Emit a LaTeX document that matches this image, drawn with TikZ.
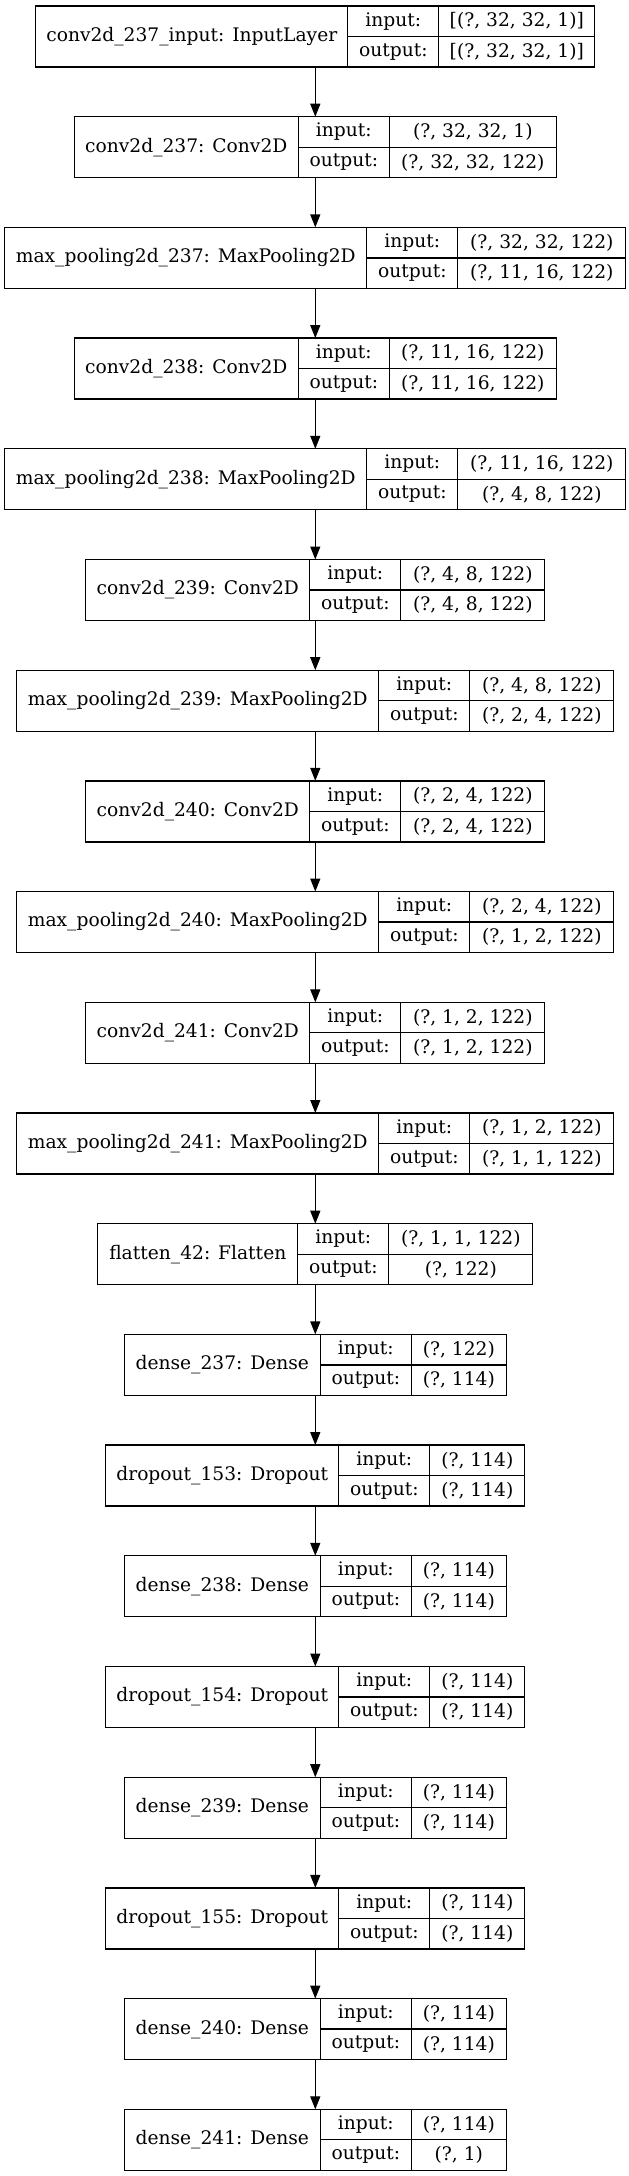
\documentclass[tikz,border=0pt]{standalone}
\usepackage{fontspec}
\setmainfont{DejaVu Serif}
\usetikzlibrary{arrows.meta}
\usetikzlibrary{positioning}

% one layer: id, row, name width, value width, title, input, output (widths in px)
\newcommand{\layer}[7]{%
  \node[layerbox, minimum width={(#3+91+#4)*0.75pt}] (#1) at (315.3,{36.5+#2*110.7}) {};
  \node[cell, minimum width={#3*0.75pt}, minimum height=45.75pt, anchor=west] (#1name) at (#1.west) {#5};
  \node[cell, minimum width=68.25pt, anchor=north west] (#1inl) at (#1name.north east) {input:};
  \node[cell, minimum width=68.25pt, anchor=north west] (#1outl) at (#1inl.south west) {output:};
  \node[cell, minimum width={#4*0.75pt}, anchor=north west] (#1inv) at (#1inl.north east) {#6};
  \node[cell, minimum width={#4*0.75pt}, anchor=north west] (#1outv) at (#1inv.south west) {#7};
  \draw[rule] (#1name.north east) -- (#1name.south east);
  \draw[rule] (#1inv.north west) -- (#1outv.south west);
  \draw[rule] (#1inl.south west) -- (#1inv.south east);
}

\begin{document}
\begin{tikzpicture}[x=0.75pt,y=-0.75pt,
    layerbox/.style={draw, line width=1pt, inner sep=0pt, outer sep=0pt, minimum height=45.75pt},
    cell/.style={inner sep=0pt, outer sep=0pt, minimum height=22.875pt,
      font=\fontsize{14}{17}\selectfont},
    rule/.style={line width=1pt},
    flow/.style={line width=1pt, -{Triangle[length=9.75pt,width=7.5pt]}}]
    \fill[white] (0,0) rectangle (628,2176);
    \useasboundingbox (0,0) rectangle (628,2176);

    % convolution part
    \layer{input237}{0}{312}{156}{conv2d\_237\_input: InputLayer}{[(?, 32, 32, 1)]}{[(?, 32, 32, 1)]}
    \layer{conv237}{1}{224}{167}{conv2d\_237: Conv2D}{(?, 32, 32, 1)}{(?, 32, 32, 122)}
    \layer{pool237}{2}{362}{168}{max\_pooling2d\_237: MaxPooling2D}{(?, 32, 32, 122)}{(?, 11, 16, 122)}
    \layer{conv238}{3}{224}{167}{conv2d\_238: Conv2D}{(?, 11, 16, 122)}{(?, 11, 16, 122)}
    \layer{pool238}{4}{362}{168}{max\_pooling2d\_238: MaxPooling2D}{(?, 11, 16, 122)}{(?, 4, 8, 122)}
    \layer{conv239}{5}{224}{144}{conv2d\_239: Conv2D}{(?, 4, 8, 122)}{(?, 4, 8, 122)}
    \layer{pool239}{6}{362}{144}{max\_pooling2d\_239: MaxPooling2D}{(?, 4, 8, 122)}{(?, 2, 4, 122)}
    \layer{conv240}{7}{224}{144}{conv2d\_240: Conv2D}{(?, 2, 4, 122)}{(?, 2, 4, 122)}
    \layer{pool240}{8}{362}{144}{max\_pooling2d\_240: MaxPooling2D}{(?, 2, 4, 122)}{(?, 1, 2, 122)}
    \layer{conv241}{9}{224}{144}{conv2d\_241: Conv2D}{(?, 1, 2, 122)}{(?, 1, 2, 122)}
    \layer{pool241}{10}{362}{144}{max\_pooling2d\_241: MaxPooling2D}{(?, 1, 2, 122)}{(?, 1, 1, 122)}

    % dense part
    \layer{flat42}{11}{200}{144}{flatten\_42: Flatten}{(?, 1, 1, 122)}{(?, 122)}
    \layer{dense237}{12}{196}{95}{dense\_237: Dense}{(?, 122)}{(?, 114)}
    \layer{drop153}{13}{233}{95}{dropout\_153: Dropout}{(?, 114)}{(?, 114)}
    \layer{dense238}{14}{196}{95}{dense\_238: Dense}{(?, 114)}{(?, 114)}
    \layer{drop154}{15}{233}{95}{dropout\_154: Dropout}{(?, 114)}{(?, 114)}
    \layer{dense239}{16}{196}{95}{dense\_239: Dense}{(?, 114)}{(?, 114)}
    \layer{drop155}{17}{233}{95}{dropout\_155: Dropout}{(?, 114)}{(?, 114)}
    \layer{dense240}{18}{196}{95}{dense\_240: Dense}{(?, 114)}{(?, 114)}
    \layer{dense241}{19}{196}{95}{dense\_241: Dense}{(?, 114)}{(?, 1)}

    % arrows
    \draw[flow] (input237) -- (conv237);
    \draw[flow] (conv237) -- (pool237);
    \draw[flow] (pool237) -- (conv238);
    \draw[flow] (conv238) -- (pool238);
    \draw[flow] (pool238) -- (conv239);
    \draw[flow] (conv239) -- (pool239);
    \draw[flow] (pool239) -- (conv240);
    \draw[flow] (conv240) -- (pool240);
    \draw[flow] (pool240) -- (conv241);
    \draw[flow] (conv241) -- (pool241);
    \draw[flow] (pool241) -- (flat42);
    \draw[flow] (flat42) -- (dense237);
    \draw[flow] (dense237) -- (drop153);
    \draw[flow] (drop153) -- (dense238);
    \draw[flow] (dense238) -- (drop154);
    \draw[flow] (drop154) -- (dense239);
    \draw[flow] (dense239) -- (drop155);
    \draw[flow] (drop155) -- (dense240);
    \draw[flow] (dense240) -- (dense241);
\end{tikzpicture}
\end{document}
